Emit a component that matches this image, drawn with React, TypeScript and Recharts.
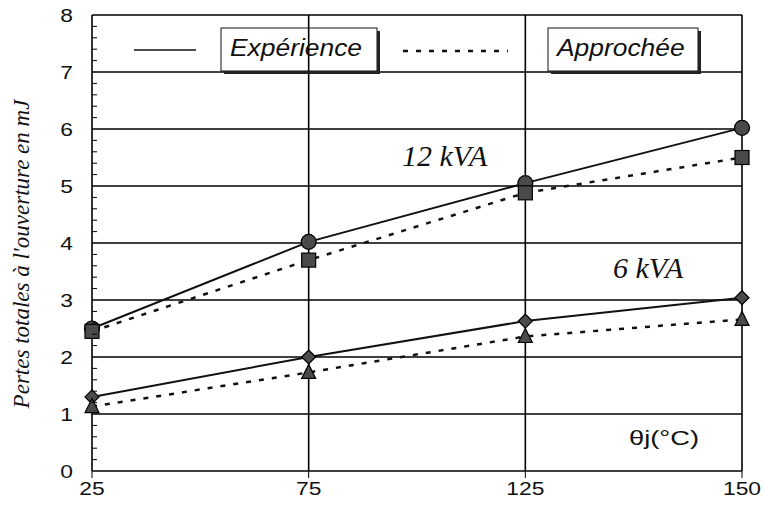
import React from 'react'
import { LineChart, Line, XAxis, YAxis, CartesianGrid } from 'recharts'

const categories = ['25', '75', '125', '150']
const exp12 = [2.5, 4.02, 5.05, 6.02]
const app12 = [2.45, 3.7, 4.88, 5.5]
const exp6 = [1.3, 2.0, 2.63, 3.04]
const app6 = [1.13, 1.73, 2.36, 2.66]
const yMajor = [0, 1, 2, 3, 4, 5, 6, 7, 8]

const yMinor: number[] = []
yMajor.forEach((v, i) => {
  if (i === yMajor.length - 1) { yMinor.push(v); return }
  for (let k = 0; k < 5; k++) yMinor.push(Math.round((v + k * 0.2) * 10) / 10)
})

const data = categories.map((c, i) => ({
  t: c,
  exp12: exp12[i],
  app12: app12[i],
  exp6: exp6[i],
  app6: app6[i],
}))

// the chart covers the whole page, so coordinates below are page pixels
const W = 764
const H = 515
const SANS = '"Liberation Sans", Arial, sans-serif'
const SERIF = '"Liberation Serif", "Times New Roman", serif'
const MARK = '#4a4a4a'

const YTick = (props: any) => {
  const { x, y, payload } = props
  const v = payload.value
  const major = Math.abs(v - Math.round(v)) < 1e-6
  return (
    <g>
      <line x1={x} x2={x + (major ? 0 : 5)} y1={y} y2={y} stroke="#000" strokeWidth={1} />
      {major && (
        <text
          transform={`translate(${x - 19},${y + 7}) scale(1.2,1)`}
          textAnchor="end"
          fontFamily={SANS}
          fontSize={19}
          fill="#111"
        >
          {v}
        </text>
      )}
    </g>
  )
}

const XTick = (props: any) => {
  const { x, y, payload } = props
  return (
    <text
      transform={`translate(${x},${y + 15}) scale(1.2,1)`}
      textAnchor="middle"
      fontFamily={SANS}
      fontSize={19}
      fill="#111"
    >
      {payload.value}
    </text>
  )
}

const Circle = (p: any) => (
  <circle key={`c${p.index}`} cx={p.cx} cy={p.cy} r={7.5} fill={MARK} stroke="#000" strokeWidth={1.2} />
)
const Square = (p: any) => (
  <rect key={`s${p.index}`} x={p.cx - 7} y={p.cy - 7} width={14} height={14} fill={MARK} stroke="#000" strokeWidth={1.2} />
)
const Diamond = (p: any) => (
  <polygon
    key={`d${p.index}`}
    points={`${p.cx},${p.cy - 7} ${p.cx + 7},${p.cy} ${p.cx},${p.cy + 7} ${p.cx - 7},${p.cy}`}
    fill={MARK}
    stroke="#000"
    strokeWidth={1.2}
  />
)
const Triangle = (p: any) => (
  <polygon
    key={`t${p.index}`}
    points={`${p.cx},${p.cy - 8} ${p.cx + 7},${p.cy + 6} ${p.cx - 7},${p.cy + 6}`}
    fill={MARK}
    stroke="#000"
    strokeWidth={1.2}
  />
)

const horizontalGen = ({ yAxis, offset }: any) =>
  yMajor.map(v =>
    yAxis && typeof yAxis.scale === 'function'
      ? yAxis.scale(v)
      : offset.top + offset.height * (1 - v / 8)
  )

const LegendBox = ({ x, y, w, h, label }: { x: number; y: number; w: number; h: number; label: string }) => (
  <g>
    <rect x={x} y={y} width={w} height={h} fill="none" stroke="#111" strokeWidth={1} />
    <polyline
      points={`${x + w + 1.5},${y + 3} ${x + w + 1.5},${y + h + 1.5} ${x + 3},${y + h + 1.5}`}
      fill="none"
      stroke="#222"
      strokeWidth={3}
    />
    <text
      transform={`translate(${x + 9},${y + 28}) scale(1.1,1)`}
      fontFamily={SANS}
      fontStyle="italic"
      fontSize={24}
      fill="#111"
    >
      {label}
    </text>
  </g>
)

export default function App() {
  return (
    <div style={{ position: 'absolute', left: 0, top: 0, width: W, height: H, background: '#fff', overflow: 'hidden' }}>
      <LineChart
        width={W}
        height={H}
        data={data}
        margin={{ top: 15, right: 22, left: 0, bottom: 0 }}
      >
        <CartesianGrid
          stroke="#000"
          strokeWidth={1.6}
          horizontalCoordinatesGenerator={horizontalGen}
        />
        <XAxis
          dataKey="t"
          height={44}
          axisLine={false}
          tickLine={{ stroke: '#000', strokeWidth: 1 }}
          tickSize={7}
          tick={<XTick />}
        />
        <YAxis
          width={92}
          domain={[0, 8]}
          ticks={yMinor}
          interval={0}
          axisLine={false}
          tickLine={false}
          tickSize={0}
          tickMargin={0}
          tick={<YTick />}
        />
        <Line dataKey="exp12" stroke="#111" strokeWidth={2} dot={Circle} isAnimationActive={false} />
        <Line dataKey="app12" stroke="#111" strokeWidth={2.5} strokeDasharray="5 8" dot={Square} isAnimationActive={false} />
        <Line dataKey="exp6" stroke="#111" strokeWidth={2} dot={Diamond} isAnimationActive={false} />
        <Line dataKey="app6" stroke="#111" strokeWidth={2.5} strokeDasharray="5 8" dot={Triangle} isAnimationActive={false} />
      </LineChart>
      <svg width={W} height={H} style={{ position: 'absolute', left: 0, top: 0, pointerEvents: 'none' }}>
        <line x1={134} x2={196} y1={50} y2={50} stroke="#111" strokeWidth={1.5} />
        <LegendBox x={221} y={28} w={156} h={43} label="Expérience" />
        <line x1={403} x2={508} y1={51} y2={51} stroke="#111" strokeWidth={2.5} strokeDasharray="5 8" />
        <LegendBox x={548} y={28} w={150} h={43} label="Approchée" />
        <text x={402} y={166} fontFamily={SERIF} fontStyle="italic" fontSize={30} fill="#111">12 kVA</text>
        <text x={613} y={278} fontFamily={SERIF} fontStyle="italic" fontSize={30} fill="#111">6 kVA</text>
        <text
          transform="translate(629,445) scale(1.3,1)"
          fontFamily={SANS}
          fontSize={21}
          fill="#111"
        >
          θj(°C)
        </text>
        <text
          transform="translate(29,254) rotate(-90)"
          textAnchor="middle"
          fontFamily={SERIF}
          fontStyle="italic"
          fontSize={23}
          fill="#111"
        >
          Pertes totales à l'ouverture en mJ
        </text>
      </svg>
    </div>
  )
}
